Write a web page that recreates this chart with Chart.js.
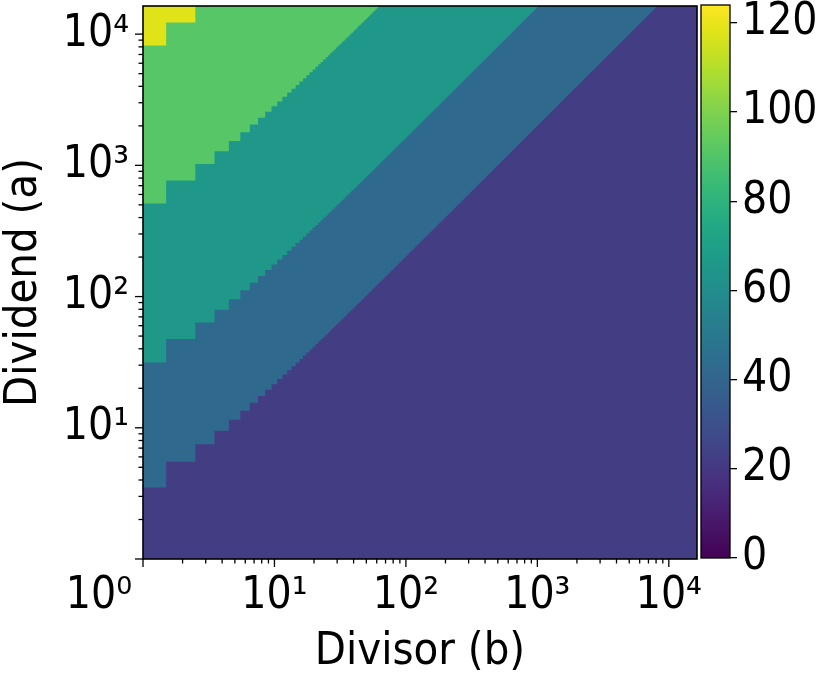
<!DOCTYPE html>
<html><head><meta charset="utf-8">
<script src="https://cdn.jsdelivr.net/npm/chart.js@4.4.1/dist/chart.umd.min.js"></script>
<style>
html,body{margin:0;padding:0;background:#fff;}
#wrap{position:relative;width:822px;height:675px;overflow:hidden;}
#main{position:absolute;left:0;top:0;}
#cbar{position:absolute;left:700px;top:0;}
</style></head><body>
<div id="wrap"><canvas id="main" width="822" height="675"></canvas><canvas id="cbar" width="122" height="675"></canvas></div>
<script>
// ---- data ----
// cycle count of each diagonal band (colour value)
const bandCycles = [22, 42, 66, 91, 118];
// band i starts at dividend a = bandStartFactor[i] * (b + 1)
const bandStartFactor = [0, 2, 16, 256, 4096];
// operand range (divisor b and dividend a are integers 1..maxOperand)
const maxOperand = 16384;
const colorMin = 0, colorMax = 124;
const logTickValues = [1, 10, 100, 1000, 10000];
const xTickLabels = ['10⁰\u2007\u2007\u2007 ', '10¹', '10²', '10³', '10⁴'];
const yTickLabels = ['', '10¹', '10²', '10³', '10⁴'];
const colorTickValues = [0, 20, 40, 60, 80, 100, 120];
const colorTickLabels = ['0', '20', '40', '60', '80', '100', '120'];
const xTitle = 'Divisor (b)';
const yTitle = 'Dividend (a)';

// ---- style ----
const FAMILY = "'DejaVu Sans Condensed', 'DejaVu Sans', sans-serif";
const VIRIDIS = ['#440154','#471365','#482475','#463480','#414487','#3b528b','#355f8d','#2f6c8e','#2a788e','#25848e','#21918c','#1e9c89','#22a884','#2fb47c','#44bf70','#5ec962','#7ad151','#9bd93c','#bddf26','#dfe318','#fde725'];

function hexRgb(h){return [parseInt(h.slice(1,3),16),parseInt(h.slice(3,5),16),parseInt(h.slice(5,7),16)];}
function viridis(t){
  t = Math.max(0, Math.min(1, t));
  const p = t * (VIRIDIS.length - 1);
  const i = Math.min(Math.floor(p), VIRIDIS.length - 2);
  const f = p - i;
  const a = hexRgb(VIRIDIS[i]), b = hexRgb(VIRIDIS[i+1]);
  const c = a.map((v, k) => Math.round(v + (b[k] - v) * f));
  return `rgb(${c[0]},${c[1]},${c[2]})`;
}
function colorFor(v){ return viridis((v - colorMin) / (colorMax - colorMin)); }

function buildLogTicks(maxV){
  const t = [];
  for (let e = 0; e <= 4; e++) {
    for (let m = 1; m <= 9; m++) {
      const v = m * Math.pow(10, e);
      if (v <= maxV) t.push({value: v, major: m === 1});
    }
  }
  return t;
}
function zeroPad(s){ s.paddingLeft = 0; s.paddingRight = 0; s.paddingTop = 0; s.paddingBottom = 0; }

const heatmapPlugin = {
  id: 'heatmap',
  beforeDatasetsDraw(chart){
    const {ctx, chartArea: ca, scales: {x, y}} = chart;
    ctx.save();
    ctx.beginPath();
    ctx.rect(ca.left, ca.top, ca.right - ca.left, ca.bottom - ca.top);
    ctx.clip();
    const top = maxOperand + 0.5;
    const yTop = y.getPixelForValue(top) - 2;
    for (let i = 0; i < bandCycles.length; i++) {
      ctx.beginPath();
      ctx.fillStyle = colorFor(bandCycles[i]);
      ctx.moveTo(x.getPixelForValue(0.5), y.getPixelForValue(0.5) + 2);
      for (let b = 1; b <= maxOperand; b++) {
        let lo = i === 0 ? 0.5 : bandStartFactor[i] * (b + 1) - 0.5;
        lo = Math.min(lo, top);
        const py = i === 0 ? y.getPixelForValue(0.5) + 2 : y.getPixelForValue(lo);
        ctx.lineTo(x.getPixelForValue(b - 0.5), py);
        ctx.lineTo(x.getPixelForValue(b + 0.5), py);
      }
      ctx.lineTo(x.getPixelForValue(maxOperand + 0.5), yTop);
      ctx.lineTo(x.getPixelForValue(0.5), yTop);
      ctx.closePath();
      ctx.fill();
    }
    ctx.restore();
  },
  afterDraw(chart){
    const {ctx, chartArea: ca, scales: {x, y}} = chart;
    ctx.save();
    ctx.strokeStyle = '#000';
    ctx.lineWidth = 1.3;
    for (const t of x.ticks) {
      const px = x.getPixelForValue(t.value);
      const len = t.major ? 8 : 4.5;
      ctx.beginPath(); ctx.moveTo(px, ca.bottom); ctx.lineTo(px, ca.bottom + len); ctx.stroke();
    }
    for (const t of y.ticks) {
      const py = y.getPixelForValue(t.value);
      const len = t.major ? 8 : 4.5;
      ctx.beginPath(); ctx.moveTo(ca.left, py); ctx.lineTo(ca.left - len, py); ctx.stroke();
    }
    ctx.lineWidth = 1.6;
    ctx.strokeRect(ca.left, ca.top, ca.right - ca.left, ca.bottom - ca.top);
    ctx.restore();
  }
};

const labelFrom = labels => v => { const i = logTickValues.indexOf(v); return i >= 0 ? labels[i] : ''; };

new Chart(document.getElementById('main'), {
  type: 'scatter',
  data: {datasets: [{data: []}]},
  options: {
    responsive: false, animation: false, devicePixelRatio: 1,
    layout: {padding: {top: 6, right: 125, left: 0, bottom: 0}},
    plugins: {legend: {display: false}, tooltip: {enabled: false}},
    scales: {
      x: {
        type: 'logarithmic', position: 'bottom', min: 1, max: maxOperand,
        afterBuildTicks: s => { s.ticks = buildLogTicks(s.max); },
        afterFit: s => { s.height = 116; zeroPad(s); },
        ticks: {autoSkip: false, maxRotation: 0, minRotation: 0, padding: 2, color: '#000',
                font: {family: FAMILY, size: 44}, callback: labelFrom(xTickLabels)},
        grid: {display: true, drawOnChartArea: false, drawTicks: true, tickLength: 9, color: 'rgba(0,0,0,0)'},
        border: {display: false},
        title: {display: true, text: xTitle, color: '#000', font: {family: FAMILY, size: 45, lineHeight: 1}, padding: {top: 0, bottom: 0}}
      },
      y: {
        type: 'logarithmic', position: 'left', min: 1, max: maxOperand,
        afterBuildTicks: s => { s.ticks = buildLogTicks(s.max); },
        afterFit: s => { s.width = 143; zeroPad(s); },
        ticks: {autoSkip: false, padding: 5, color: '#000',
                font: {family: FAMILY, size: 44}, callback: labelFrom(yTickLabels)},
        grid: {display: true, drawOnChartArea: false, drawTicks: true, tickLength: 9, color: 'rgba(0,0,0,0)'},
        border: {display: false},
        title: {display: true, text: yTitle, color: '#000', font: {family: FAMILY, size: 45, lineHeight: 1.1}, padding: {top: 0, bottom: 0}}
      }
    }
  },
  plugins: [heatmapPlugin]
});

const colorbarPlugin = {
  id: 'colorbar',
  beforeDatasetsDraw(chart){
    const {ctx, chartArea: ca, scales: {y}} = chart;
    const g = ctx.createLinearGradient(0, y.getPixelForValue(colorMin), 0, y.getPixelForValue(colorMax));
    VIRIDIS.forEach((c, i) => g.addColorStop(i / (VIRIDIS.length - 1), c));
    ctx.save();
    ctx.fillStyle = g;
    ctx.fillRect(ca.left, ca.top, ca.right - ca.left, ca.bottom - ca.top);
    ctx.strokeStyle = '#000';
    ctx.lineWidth = 1.3;
    ctx.strokeRect(ca.left, ca.top, ca.right - ca.left, ca.bottom - ca.top);
    ctx.restore();
  }
};

new Chart(document.getElementById('cbar'), {
  type: 'scatter',
  data: {datasets: [{data: []}]},
  options: {
    responsive: false, animation: false, devicePixelRatio: 1,
    layout: {padding: {left: 1, top: 5, bottom: 117, right: 0}},
    plugins: {legend: {display: false}, tooltip: {enabled: false}},
    scales: {
      x: {display: false, type: 'linear', min: 0, max: 1},
      y: {
        type: 'linear', position: 'right', min: colorMin, max: colorMax,
        afterBuildTicks: s => { s.ticks = colorTickValues.map(v => ({value: v})); },
        afterFit: s => { s.width = 92; zeroPad(s); },
        ticks: {autoSkip: false, padding: 5, color: '#000', font: {family: FAMILY, size: 44},
                callback: v => { const i = colorTickValues.indexOf(v); return i >= 0 ? colorTickLabels[i] : ''; }},
        grid: {display: true, drawOnChartArea: false, drawTicks: true, tickLength: 7, color: '#000', lineWidth: 1.3},
        border: {display: false}
      }
    }
  },
  plugins: [colorbarPlugin]
});
</script>
</body></html>
